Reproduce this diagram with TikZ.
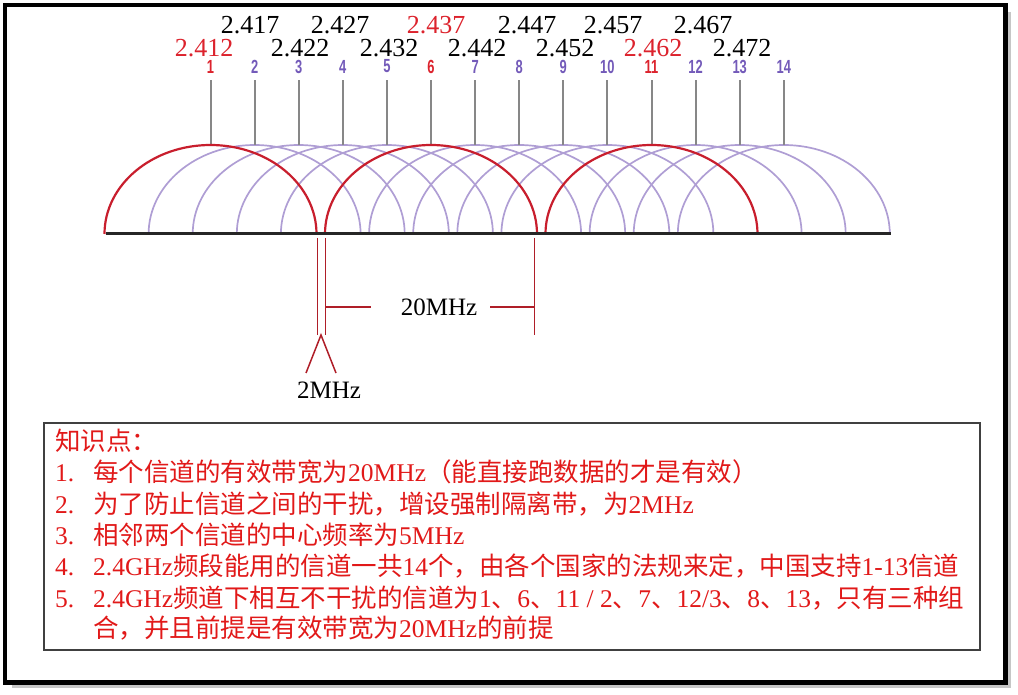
\documentclass[tikz,border=0pt]{standalone}
\usepackage{fontspec}
\setmainfont{Liberation Serif}
\newfontfamily\cjk{Noto Sans CJK SC}
\newfontfamily\chfont{Liberation Sans}

\definecolor{chred}{RGB}{220,35,45}
\definecolor{chpurple}{RGB}{115,90,185}
\definecolor{arcpurple}{RGB}{175,158,212}
\definecolor{arcred}{RGB}{200,30,45}
\definecolor{tickgray}{RGB}{135,135,135}
\definecolor{dimred}{RGB}{175,30,40}
\definecolor{notered}{RGB}{225,25,25}

\begin{document}
\begin{tikzpicture}[
    x=1pt, y=-1pt,
    freq/.style={inner sep=0pt, font=\fontsize{26}{26}\selectfont},
    chnum/.style={inner sep=0pt, font=\chfont\bfseries\fontsize{19}{19}\selectfont},
    tick/.style={tickgray, line width=2pt},
    wave/.style={arcpurple, line width=1.7pt},
    redwave/.style={arcred, line width=2.2pt},
    dim/.style={dimred, line width=1.5pt},
    dimtext/.style={inner sep=0pt, font=\fontsize{25}{25}\selectfont},
    note/.style={anchor=base west, inner sep=0pt, text=notered,
      font=\fontsize{25.5}{30}\selectfont}
  ]
    \useasboundingbox (0,0) rectangle (1018,695);

    % frame with shadow
    \draw[gray!45, line width=4pt] (1009,12) -- (1009,686) -- (12,686);
    \draw[line width=4.8pt] (5,5) rectangle (1005.5,682.5);

    % channel numbers and arc tops
    \foreach \k/\c in {1/chred,2/chpurple,3/chpurple,4/chpurple,5/chpurple,
        6/chred,7/chpurple,8/chpurple,9/chpurple,10/chpurple,11/chred,
        12/chpurple,13/chpurple,14/chpurple} {
      \node[chnum, text=\c] (n\k) at ({210.5+(\k-1)*44.1},66.5) {\scalebox{0.68}[1]{\k}};
      \coordinate (c\k) at ({210.5+(\k-1)*44.1},145);
    }

    % centre frequencies
    \node[freq, text=chred] (f2412) at (204,48) {2.412};
    \node[freq] (f2417) at (250,25) {2.417};
    \node[freq] (f2422) at (300,48) {2.422};
    \node[freq] (f2427) at (340,25) {2.427};
    \node[freq] (f2432) at (389,48) {2.432};
    \node[freq, text=chred] (f2437) at (436,25) {2.437};
    \node[freq] (f2442) at (477,48) {2.442};
    \node[freq] (f2447) at (527,25) {2.447};
    \node[freq] (f2452) at (565,48) {2.452};
    \node[freq] (f2457) at (613,25) {2.457};
    \node[freq, text=chred] (f2462) at (653,48) {2.462};
    \node[freq] (f2467) at (703,25) {2.467};
    \node[freq] (f2472) at (742,48) {2.472};

    % channel spectra
    \foreach \k in {2,3,4,5,7,8,9,10,12,13,14}
      \draw[wave] (c\k) ++(-106,89) arc[start angle=180, end angle=0, x radius=106pt, y radius=89pt];
    \foreach \k in {1,...,14}
      \draw[tick] (n\k.south) ++(0,7) -- (c\k);
    \foreach \k in {1,6,11}
      \draw[redwave] (c\k) ++(-106,89) arc[start angle=180, end angle=0, x radius=106pt, y radius=89pt];

    \coordinate (b0) at (106,234);
    \coordinate (b1) at (891,234);
    \draw[line width=3pt, black!85] (b0) -- (b1);

    % 20MHz / 2MHz marks
    \coordinate (g1) at (317.5,238);
    \coordinate (g2) at (325.5,238);
    \coordinate (w2) at (534.5,238);
    \draw[dim] (g1) -- ++(0,97);
    \draw[dim] (g2) -- ++(0,97);
    \draw[dim] (w2) -- ++(0,97);
    \node[dimtext] (bw) at (439,307) {20MHz};
    \draw[dim] (g2 |- bw) -- ([xshift=-30pt]bw.west);
    \draw[dim] ([xshift=13pt]bw.east) -- (w2 |- bw);

    \coordinate (apx) at (321,335);
    \coordinate (lg1) at (306,373);
    \coordinate (lg2) at (336,373);
    \draw[dim] (lg1) -- (apx) -- (lg2);
    \node[dimtext] (gm) at (329,390) {2MHz};

    % notes
    \draw[black!75, line width=1.2pt] (44,423) rectangle (980,650);
    \node[note] (t0) at (55,450) {\cjk 知识点：};
    \node[note] (t1) at (55,481) {\makebox[38pt][l]{1.}{\cjk 每个信道的有效带宽为}20MHz{\cjk （能直接跑数据的才是有效）}};
    \node[note] (t2) at (55,513) {\makebox[38pt][l]{2.}{\cjk 为了防止信道之间的干扰，增设强制隔离带，为}2MHz};
    \node[note] (t3) at (55,544) {\makebox[38pt][l]{3.}{\cjk 相邻两个信道的中心频率为}5MHz};
    \node[note] (t4) at (55,575) {\makebox[38pt][l]{4.}2.4GHz{\cjk 频段能用的信道一共}14{\cjk 个，由各个国家的法规来定，中国支持}1-13{\cjk 信道}};
    \node[note] (t5) at (55,607) {\makebox[38pt][l]{5.}2.4GHz{\cjk 频道下相互不干扰的信道为}1{\cjk 、}6{\cjk 、}11 / 2{\cjk 、}7{\cjk 、}12/3{\cjk 、}8{\cjk 、}13{\cjk ，只有三种组}};
    \node[note] (t6) at (93,637) {{\cjk 合，并且前提是有效带宽为}20MHz{\cjk 的前提}};
  \end{tikzpicture}
\end{document}
